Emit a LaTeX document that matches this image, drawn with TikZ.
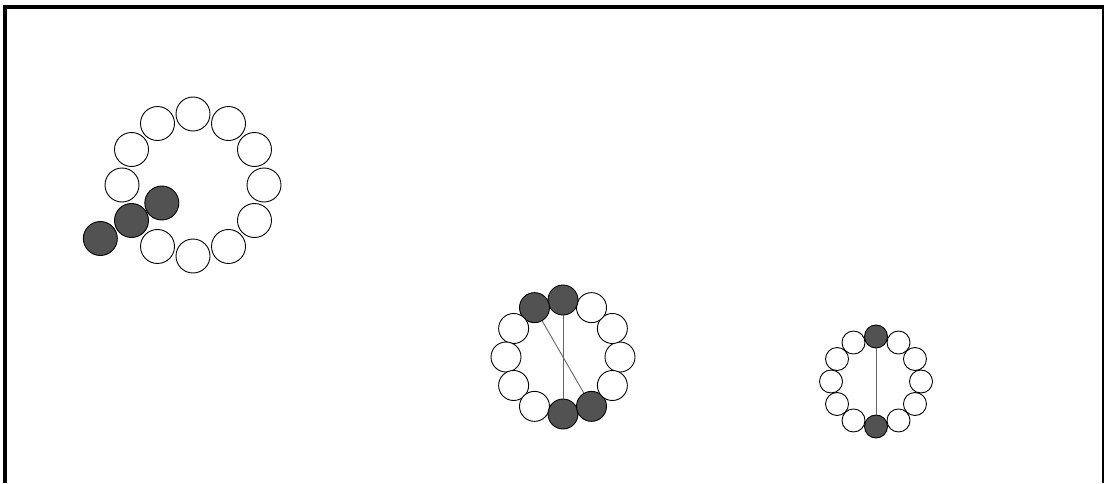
\documentclass[tikz,border=0pt]{standalone}
\usetikzlibrary{calc}

\begin{document}
\begin{tikzpicture}[
        x=1pt, y=1pt,
        white bead/.style={circle, draw=black, line width=0.9pt, fill=white, inner sep=0pt},
        dark bead/.style={circle, draw=black, line width=0.9pt, fill=black!68, inner sep=0pt},
        tie/.style={draw=black!60, line width=0.9pt},
    ]

    % Khung ảnh (không có cạnh dưới)
    \useasboundingbox (0,0) rectangle (1105,483);
    \draw[line width=4pt] (5,0) -- (5,476) -- (1103,476);
    \draw[line width=2pt] (1103,478) -- (1103,0);

    % Vòng 1: 12 hạt, hạt ở góc 210 nằm trong chuỗi 3 hạt tối
    \coordinate (ringA) at (193,298);
    \foreach \k in {0,...,11} {
        \pgfmathtruncatemacro{\ang}{\k*30}
        \def\beadstyle{white bead}
        \ifnum\ang=210
            \def\beadstyle{dark bead}
        \fi
        \node[\beadstyle, minimum size=34pt] (a-\k) at ($(ringA)+(\ang:71)$) {};
    }
    \node[dark bead, minimum size=34pt] (a-in) at ($(ringA)+(210:36)$) {};
    \node[dark bead, minimum size=34pt] (a-out) at ($(ringA)+(210:107)$) {};

    % Vòng 2: 4 hạt tối, 2 dây nối chéo
    \coordinate (ringB) at (563,126);
    \foreach \k in {0,...,11} {
        \pgfmathtruncatemacro{\ang}{\k*30}
        \def\beadstyle{white bead}
        \ifnum\ang=90 \def\beadstyle{dark bead}\fi
        \ifnum\ang=120 \def\beadstyle{dark bead}\fi
        \ifnum\ang=270 \def\beadstyle{dark bead}\fi
        \ifnum\ang=300 \def\beadstyle{dark bead}\fi
        \node[\beadstyle, minimum size=30pt] (b-\k) at ($(ringB)+(\ang:57)$) {};
    }
    \draw[tie] (b-3) -- (b-9);
    \draw[tie] (b-4) -- (b-10);

    % Vòng 3: hạt nhỏ, 2 hạt tối đối diện
    \coordinate (ringC) at (876,101.5);
    \foreach \k in {0,...,11} {
        \pgfmathtruncatemacro{\ang}{\k*30}
        \def\beadstyle{white bead}
        \ifnum\ang=90 \def\beadstyle{dark bead}\fi
        \ifnum\ang=270 \def\beadstyle{dark bead}\fi
        \node[\beadstyle, minimum size=23pt] (c-\k) at ($(ringC)+(\ang:45)$) {};
    }
    \draw[tie] (c-3) -- (c-9);

\end{tikzpicture}
\end{document}
